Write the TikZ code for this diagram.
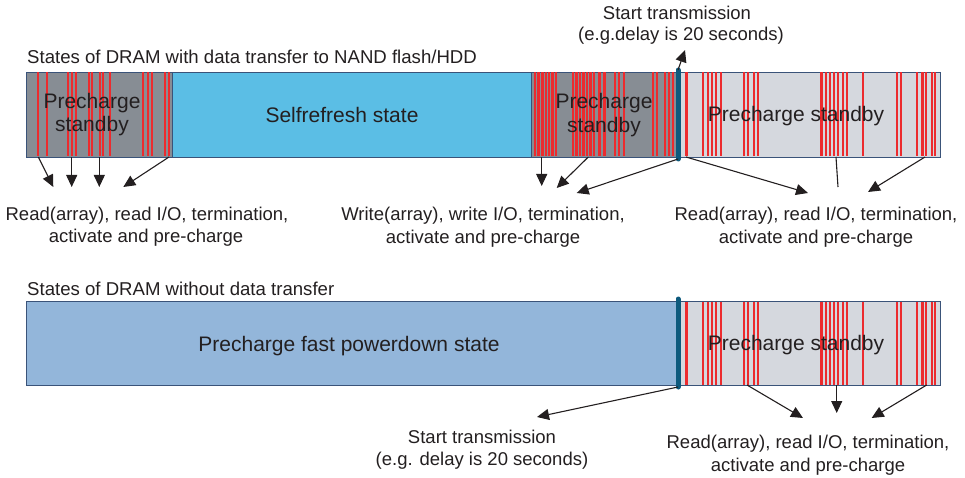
\documentclass[tikz,border=0pt]{standalone}
\usepackage{fontspec}
\setmainfont{Liberation Sans}
\usetikzlibrary{arrows.meta}
\definecolor{darkgrey}{HTML}{878D94}
\definecolor{lightgrey}{HTML}{D5D8DE}
\definecolor{selfblue}{HTML}{5BBEE5}
\definecolor{pdblue}{HTML}{93B6DA}
\definecolor{edge}{HTML}{3A5379}
\definecolor{marker}{HTML}{0D5A7D}
\definecolor{burst}{HTML}{EC2B2E}
\definecolor{ink}{HTML}{231F20}
\tikzset{
  seg/.style={rectangle, draw=edge, line width=0.9pt, inner sep=0pt, anchor=north west},
  burstline/.style={draw=burst, line width=2.2pt},
  markerline/.style={draw=marker, line width=5pt, line cap=round},
  arr/.style={draw=ink, line width=1.1pt, -{Triangle[length=12pt,width=11pt]}},
  plain/.style={draw=ink, line width=1.1pt},
  statelabel/.style={text=ink, font=\fontsize{21}{25}\selectfont, inner sep=0pt, anchor=base},
  note/.style={text=ink, font=\fontsize{18.5}{22}\selectfont, inner sep=0pt, anchor=base},
  heading/.style={text=ink, font=\fontsize{18.6}{22}\selectfont, inner sep=0pt, anchor=base west}
}
\begin{document}
\begin{tikzpicture}[x=1pt,y=-1pt]
\useasboundingbox (0,0) rectangle (965,478);

% ---------- upper bar: DRAM with data transfer ----------
\node[seg, fill=darkgrey, minimum width=146pt, minimum height=85pt] (pre1) at (26,72) {};
\node[seg, fill=selfblue, minimum width=359pt, minimum height=85pt] (self) at (172,72) {};
\node[seg, fill=darkgrey, minimum width=147pt, minimum height=85pt] (pre2) at (531,72) {};
\node[seg, fill=lightgrey, minimum width=262pt, minimum height=85pt] (stb1) at (678,72) {};

\foreach \x in {38.3,46.7,68.3,71.7,76,89,91.7,100,103.3,110,142.7,147.7,152.3,165,169}
  \draw[burstline] (\x,72.5) -- (\x,156.5);
\foreach \x in {535,538.5,542.5,545.7,549,552.5,556.3,573,576.5,580,583.5,587,590.5,594,599.5,604.5,615.3,619,623.8,653.3,657,665.3,669,673}
  \draw[burstline] (\x,72.5) -- (\x,156.5);
\foreach \x in {686.5,703.3,707.7,712,716,720.7,744,748.3,754,758.3,821.5,825.7,830,834.3,838.3,842.7,846.7,862.7,897,901.2,917.3,922.5,926,931.7,935}
  \draw[burstline] (\x,72.5) -- (\x,156.5);

\coordinate (m1t) at (678,70);
\coordinate (m1b) at (678,159);
\draw[markerline] (m1t) -- (m1b);

% ---------- lower bar: DRAM without data transfer ----------
\node[seg, fill=pdblue, minimum width=652pt, minimum height=84pt] (pdn) at (26,301) {};
\node[seg, fill=lightgrey, minimum width=262pt, minimum height=84pt] (stb2) at (678,301) {};
\foreach \x in {686.5,703.3,707.7,712,716,720.7,744,748.3,754,758.3,821.5,825.7,830,834.3,838.3,842.7,846.7,862.7,897,901.2,917.3,922.5,926,931.7,935}
  \draw[burstline] (\x,301.5) -- (\x,384.5);

\coordinate (m2t) at (678,299);
\coordinate (m2b) at (678,387);
\draw[markerline] (m2t) -- (m2b);

% ---------- state names ----------
\node[statelabel] (p1a) at (92,108.5) {Precharge};
\node[statelabel] (p1b) at (92,132) {standby};
\node[statelabel] (sfl) at (342,122.5) {Selfrefresh state};
\node[statelabel] (p2a) at (604,109) {Precharge};
\node[statelabel] (p2b) at (604,132.5) {standby};
\node[statelabel] (s1l) at (796,122) {Precharge standby};
\node[statelabel] (pdl) at (349,351.5) {Precharge fast powerdown state};
\node[statelabel] (s2l) at (796,350.5) {Precharge standby};

% ---------- headings ----------
\node[heading] (h1) at (27,63.3) {States of DRAM with data transfer to NAND flash/HDD};
\node[heading] (h2) at (27,295) {States of DRAM without data transfer};

% ---------- notes ----------
\node[note] (tx1a) at (677,19.5) {Start transmission};
\node[note] (tx1b) at (681,41) {(e.g.delay is 20 seconds)};
\node[note] (rl1) at (147,220) {Read(array), read I/O, termination,};
\node[note] (rl2) at (146,242.5) {activate and pre-charge};
\node[note] (wm1) at (483,220.5) {Write(array), write I/O, termination,};
\node[note] (wm2) at (483,243) {activate and pre-charge};
\node[note] (rr1) at (816,220.5) {Read(array), read I/O, termination,};
\node[note] (rr2) at (816,243) {activate and pre-charge};
\node[note] (tx2a) at (482,443) {Start transmission};
\node[note] (tx2b) at (482,465) {(e.g. delay is 20 seconds)};
\node[note] (rb1) at (808,448) {Read(array), read I/O, termination,};
\node[note] (rb2) at (808,471) {activate and pre-charge};

% ---------- connectors ----------
\coordinate (a1s) at (38.3,157);  \coordinate (a1e) at (53.3,187);
\coordinate (a2s) at (71.7,157);  \coordinate (a2e) at (71.7,187);
\coordinate (a3s) at (99.3,157);  \coordinate (a3e) at (99.3,187);
\coordinate (a4s) at (169,157);   \coordinate (a4e) at (123.3,187);
\draw[arr] (a1s) -- (a1e);
\draw[arr] (a2s) -- (a2e);
\draw[arr] (a3s) -- (a3e);
\draw[arr] (a4s) -- (a4e);

\coordinate (b1s) at (541.7,157); \coordinate (b1e) at (541.7,186);
\coordinate (b2s) at (588.3,157); \coordinate (b2e) at (556.7,188);
\coordinate (b3e) at (576.7,193);
\draw[arr] (b1s) -- (b1e);
\draw[arr] (b2s) -- (b2e);
\draw[arr] (m1b) -- (b3e);
\coordinate (upe) at (685,50);
\draw[arr] (m1t) -- (upe);

\coordinate (c1s) at (686,157);   \coordinate (c1e) at (808,193);
\coordinate (c2s) at (836,157);   \coordinate (c2e) at (838,187);
\coordinate (c3s) at (925,157);   \coordinate (c3e) at (868,192);
\draw[arr] (c1s) -- (c1e);
\draw[plain] (c2s) -- (c2e);
\draw[arr] (c3s) -- (c3e);

\coordinate (d0e) at (537,417);
\draw[arr] (m2b) -- (d0e);
\coordinate (d1s) at (747,385);   \coordinate (d1e) at (803,418);
\coordinate (d2s) at (836.7,385); \coordinate (d2e) at (836.7,413);
\coordinate (d3s) at (926.7,385); \coordinate (d3e) at (871.7,418);
\draw[arr] (d1s) -- (d1e);
\draw[arr] (d2s) -- (d2e);
\draw[arr] (d3s) -- (d3e);
\end{tikzpicture}
\end{document}
